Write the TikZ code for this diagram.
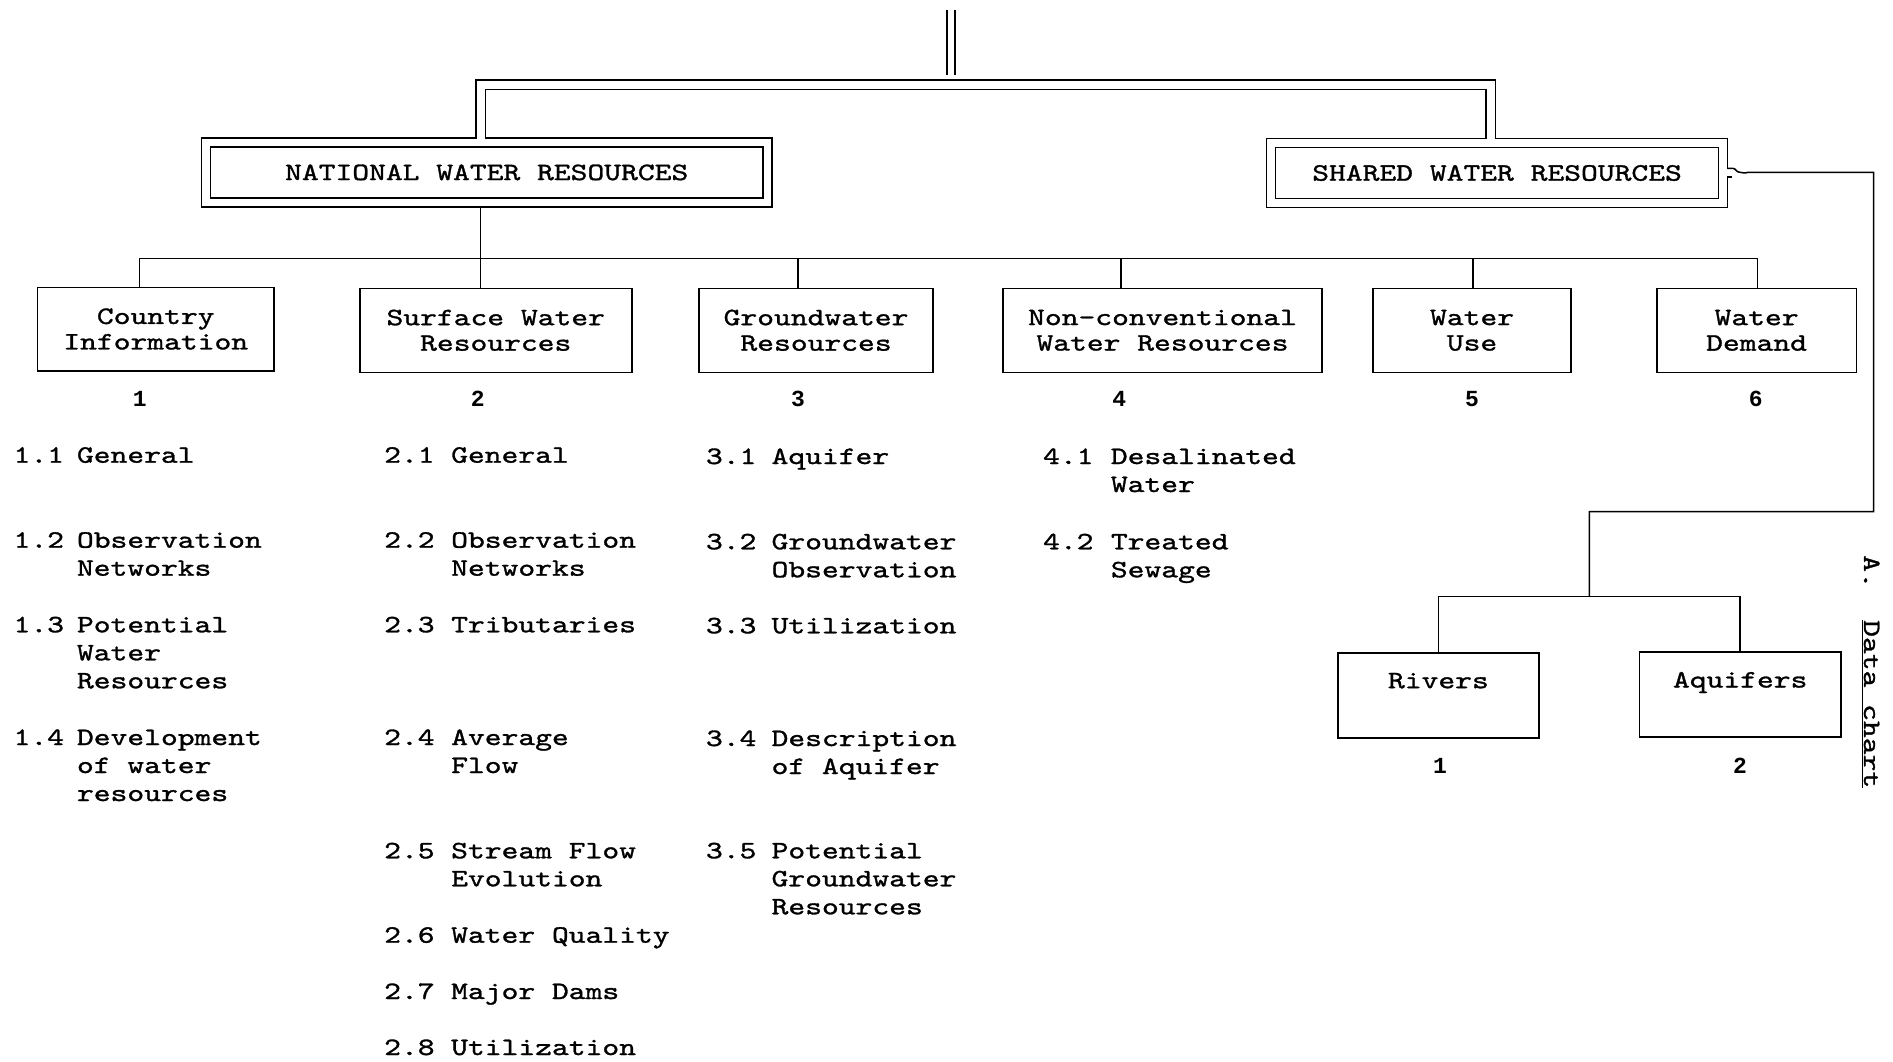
\documentclass[tikz,border=0pt]{standalone}
\usepackage{fontspec}
\newfontfamily\tw{lmmono10-regular.otf}[FakeStretch=1.28,FakeBold=1.2]
\newfontfamily\nb{Liberation Mono}
\newcommand\ml[1]{\vtop{\baselineskip=28pt\halign{##\hfil\cr#1\crcr}}}
\tikzset{
  lin/.style={line width=1.5pt},
  dline/.style={double, double distance=7.8pt, line width=1.5pt},
  cbox/.style={draw, line width=1.6pt, inner sep=0pt, align=center,
    font=\tw\fontsize{25}{25.5}\selectfont},
  dbox/.style={draw, double, double distance=7.4pt, line width=1.6pt, inner sep=0pt,
    outer sep=3.7pt, font=\tw\fontsize{25}{25.5}\selectfont},
  numlab/.style={font=\nb\bfseries\fontsize{23}{23}\selectfont, anchor=base, inner sep=0pt},
  itm/.style={font=\tw\fontsize{25}{28}\selectfont, anchor=base west, inner sep=0pt},
}
\begin{document}
\begin{tikzpicture}[x=1pt,y=-1pt]
\path[use as bounding box, fill=white] (0,0) rectangle (1893,1061);

% top double stub
\coordinate (tp1) at (950.8,10);
\coordinate (tp2) at (950.8,75);
\draw[double, double distance=6.4pt, line width=1.6pt] (tp1) -- (tp2);

% double boxes
\node[dbox, minimum width=561.35pt, minimum height=60.15pt] (national) at (486.7,172.4) {NATIONAL WATER RESOURCES};
\node[dbox, minimum width=451.8pt, minimum height=59.65pt] (shared) at (1497.05,173) {SHARED WATER RESOURCES};

\coordinate (jl) at (480.65,84.65);
\coordinate (jr) at (1490.75,84.65);
\draw[dline] (jl |- national.north) -- (jl) -- (jr) -- (jr |- shared.north);

% second level boxes
\node[cbox, minimum width=236.5pt, minimum height=83.4pt] (country) at (155.75,329) {Country\\Information};
\node[cbox, minimum width=271.9pt, minimum height=84pt] (surface) at (495.75,330.3) {Surface Water\\Resources};
\node[cbox, minimum width=233.9pt, minimum height=84pt] (ground) at (816.05,330.3) {Groundwater\\Resources};
\node[cbox, minimum width=319.4pt, minimum height=84pt] (noncon) at (1162.5,330.3) {Non-conventional\\Water Resources};
\node[cbox, minimum width=198.1pt, minimum height=84pt] (wuse) at (1472.05,330.3) {Water\\Use};
\node[cbox, minimum width=199.8pt, minimum height=84pt] (wdem) at (1756.6,330.3) {Water\\Demand};

% bus
\coordinate (c1) at (139.7,258.4);
\coordinate (c2) at (480.3,258.4);
\coordinate (c3) at (798.2,258.4);
\coordinate (c4) at (1120.9,258.4);
\coordinate (c5) at (1472.8,258.4);
\coordinate (c6) at (1757.4,258.4);
\draw[lin] (c1) -- (c6);
\draw[lin] (c2 |- national.south) -- (c2 |- surface.north);
\draw[lin] (c1) -- (c1 |- country.north);
\draw[lin] (c3) -- (c3 |- ground.north);
\draw[lin] (c4) -- (c4 |- noncon.north);
\draw[lin] (c5) -- (c5 |- wuse.north);
\draw[lin] (c6) -- (c6 |- wdem.north);

% numbers
\node[numlab] (k1) at (139.7,406.7) {1};
\node[numlab] (k2) at (477.7,406.7) {2};
\node[numlab] (k3) at (798,406.7) {3};
\node[numlab] (k4) at (1119.3,406.7) {4};
\node[numlab] (k5) at (1472,406.7) {5};
\node[numlab] (k6) at (1755.8,406.7) {6};

% shared branch
\node[cbox, minimum width=201.2pt, minimum height=85pt, text height=15pt, text depth=29pt] (rivers) at (1438.4,695.2) {Rivers};
\node[cbox, minimum width=201.2pt, minimum height=85pt, text height=15pt, text depth=29pt] (aquifers) at (1740.2,694.5) {Aquifers};
\node[numlab] (r1) at (1440,773) {1};
\node[numlab] (r2) at (1740,773) {2};

% exit of the connector through the outer frame of the shared box
\fill[white] (1726.2,169.3) rectangle (1728.7,176.1);
\coordinate (sq) at (1727.45,168.3);
\coordinate (rs) at (1748,172.3);
\coordinate (rc1) at (1873.7,172.3);
\coordinate (rc2) at (1873.7,511.7);
\coordinate (rc3) at (1589.3,511.7);
\coordinate (rj) at (1589.3,596.7);
\draw[lin] (1727.45,177) -- (1731.5,177);
\draw[lin] (sq) -- (1732.5,168.3) .. controls (1736.5,168.3) and (1735.5,172.3) .. (1740,172.3)
  .. controls (1743,172.3) and (1744,173.8) .. (rs) -- (rc1) -- (rc2) -- (rc3) -- (rj);
\draw[lin] (rivers.north) |- (rj) -| (aquifers.north);

% rotated caption
\node[itm, rotate=-90] (capa) at (1864,555) {A.};
\node[itm, rotate=-90] (capd) at (1864,620) {\underline{Data chart}};

% column 1
\node[itm] (n11) at (13.4,462.7) {1.1};
\node[itm] (t11) at (76.8,462.7) {General};
\node[itm] (n12) at (13.4,547.7) {1.2};
\node[itm] (t12) at (76.8,547.7) {\ml{Observation\cr Networks}};
\node[itm] (n13) at (13.4,632.3) {1.3};
\node[itm] (t13) at (76.8,632.3) {\ml{Potential\cr Water\cr Resources}};
\node[itm] (n14) at (13.4,745) {1.4};
\node[itm] (t14) at (76.8,745) {\ml{Development\cr of water\cr resources}};

% column 2
\node[itm] (n21) at (384,462.7) {2.1};
\node[itm] (t21) at (451,462.7) {General};
\node[itm] (n22) at (384,547.7) {2.2};
\node[itm] (t22) at (451,547.7) {\ml{Observation\cr Networks}};
\node[itm] (n23) at (384,632.3) {2.3};
\node[itm] (t23) at (451,632.3) {Tributaries};
\node[itm] (n24) at (384,745) {2.4};
\node[itm] (t24) at (451,745) {\ml{Average\cr Flow}};
\node[itm] (n25) at (384,858.3) {2.5};
\node[itm] (t25) at (451,858.3) {\ml{Stream Flow\cr Evolution}};
\node[itm] (n26) at (384,942.7) {2.6};
\node[itm] (t26) at (451,942.7) {Water Quality};
\node[itm] (n27) at (384,999) {2.7};
\node[itm] (t27) at (451,999) {Major Dams};
\node[itm] (n28) at (384,1055) {2.8};
\node[itm] (t28) at (451,1055) {Utilization};

% column 3
\node[itm] (n31) at (705.8,464) {3.1};
\node[itm] (t31) at (771.4,464) {Aquifer};
\node[itm] (n32) at (705.8,549.3) {3.2};
\node[itm] (t32) at (771.4,549.3) {\ml{Groundwater\cr Observation}};
\node[itm] (n33) at (705.8,633.3) {3.3};
\node[itm] (t33) at (771.4,633.3) {Utilization};
\node[itm] (n34) at (705.8,746) {3.4};
\node[itm] (t34) at (771.4,746) {\ml{Description\cr of Aquifer}};
\node[itm] (n35) at (705.8,858.3) {3.5};
\node[itm] (t35) at (771.4,858.3) {\ml{Potential\cr Groundwater\cr Resources}};

% column 4
\node[itm] (n41) at (1042.9,464) {4.1};
\node[itm] (t41) at (1110.7,464) {\ml{Desalinated\cr Water}};
\node[itm] (n42) at (1042.9,549.3) {4.2};
\node[itm] (t42) at (1110.7,549.3) {\ml{Treated\cr Sewage}};
\end{tikzpicture}
\end{document}
